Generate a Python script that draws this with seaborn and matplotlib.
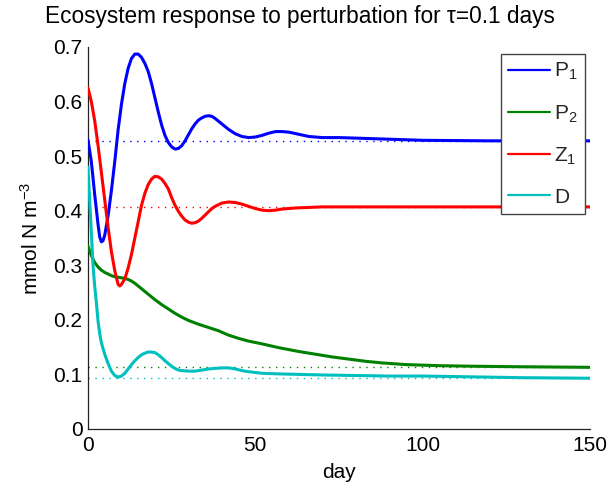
import numpy as np
import pandas as pd
import matplotlib
matplotlib.use("Agg")
import matplotlib.pyplot as plt
import seaborn as sns
from matplotlib.lines import Line2D

# ---------------- data ----------------
p1_days = [0, 1, 2, 3, 3.5, 4, 4.5, 5, 6, 7, 8, 9, 10, 11, 12, 13, 14, 15, 16, 17, 18, 19,
           20, 21, 22, 23, 24, 25, 26, 27, 28, 29, 30, 31, 32, 33, 34, 35, 36, 37, 38, 40,
           42, 44, 46, 48, 50, 52, 54, 56, 58, 60, 63, 66, 70, 75, 80, 90, 100, 120, 150]
p1_vals = [0.530, 0.490, 0.430, 0.375, 0.352, 0.343, 0.345, 0.355, 0.390, 0.437, 0.490,
           0.548, 0.595, 0.633, 0.661, 0.679, 0.687, 0.687, 0.681, 0.670, 0.655, 0.633,
           0.607, 0.581, 0.557, 0.538, 0.525, 0.517, 0.513, 0.514, 0.519, 0.528, 0.539,
           0.550, 0.559, 0.566, 0.570, 0.573, 0.574, 0.573, 0.569, 0.559, 0.549, 0.541,
           0.536, 0.534, 0.535, 0.538, 0.542, 0.545, 0.545, 0.544, 0.540, 0.536, 0.534,
           0.534, 0.533, 0.531, 0.529, 0.528, 0.528]

p2_days = [0, 1, 2, 3, 4, 5, 6, 7, 8, 9, 10, 11, 12, 13, 14, 15, 16, 17, 18, 19, 20, 22,
           24, 26, 28, 30, 33, 36, 39, 42, 45, 48, 52, 57, 63, 68, 73, 78, 83, 88, 95,
           105, 115, 130, 150]
p2_vals = [0.335, 0.318, 0.305, 0.297, 0.291, 0.287, 0.284, 0.281, 0.279, 0.278, 0.277,
           0.276, 0.274, 0.271, 0.267, 0.262, 0.257, 0.252, 0.247, 0.242, 0.237, 0.228,
           0.220, 0.212, 0.205, 0.199, 0.192, 0.186, 0.180, 0.172, 0.166, 0.161, 0.156,
           0.149, 0.142, 0.137, 0.132, 0.128, 0.124, 0.121, 0.118, 0.116, 0.115, 0.114,
           0.113]

z1_days = [0, 1, 2, 3, 4, 5, 6, 7, 8, 9, 9.5, 10, 11, 12, 13, 14, 15, 16, 17, 18, 19, 20,
           21, 22, 23, 24, 25, 26, 27, 28, 29, 30, 31, 32, 33, 34, 35, 36, 37, 38, 39, 40,
           42, 44, 46, 48, 50, 52, 54, 56, 58, 62, 70, 150]
z1_vals = [0.625, 0.600, 0.565, 0.520, 0.470, 0.420, 0.370, 0.325, 0.290, 0.265, 0.262,
           0.265, 0.275, 0.295, 0.320, 0.350, 0.380, 0.410, 0.432, 0.448, 0.458, 0.463,
           0.462, 0.458, 0.450, 0.440, 0.424, 0.410, 0.399, 0.390, 0.383, 0.379, 0.377,
           0.378, 0.381, 0.386, 0.392, 0.398, 0.404, 0.408, 0.411, 0.414, 0.416, 0.415,
           0.412, 0.408, 0.404, 0.401, 0.400, 0.401, 0.403, 0.405, 0.407, 0.407]

d_days = [0, 0.5, 1, 1.5, 2, 2.5, 3, 3.5, 4, 5, 6, 7, 8, 9, 10, 11, 12, 13, 14, 15, 16,
          17, 18, 19, 20, 21, 22, 23, 24, 25, 26, 27, 28, 30, 32, 34, 36, 38, 40, 42, 44,
          46, 48, 52, 57, 63, 70, 80, 90, 100, 110, 120, 130, 150]
d_vals = [0.480, 0.420, 0.360, 0.300, 0.262, 0.232, 0.198, 0.175, 0.158, 0.137, 0.120,
          0.106, 0.098, 0.095, 0.097, 0.102, 0.110, 0.118, 0.125, 0.131, 0.136, 0.139,
          0.141, 0.141, 0.140, 0.136, 0.131, 0.125, 0.120, 0.115, 0.111, 0.108, 0.107,
          0.106, 0.106, 0.108, 0.110, 0.111, 0.112, 0.112, 0.110, 0.107, 0.105, 0.102,
          0.101, 0.100, 0.099, 0.098, 0.097, 0.097, 0.096, 0.095, 0.094, 0.093]

series_names = ["P$_1$", "P$_2$", "Z$_1$", "D"]
equilibria = [0.527, 0.113, 0.407, 0.094]
x_ticks = [0, 50, 100, 150]
y_ticks = [0, 0.1, 0.2, 0.3, 0.4, 0.5, 0.6, 0.7]
title = "Ecosystem response to perturbation for \u03c4=0.1 days"
x_label = "day"
y_label = "mmol N m$^{-3}$"

colors = ["#0000ff", "#008000", "#ff0000", "#00bfbf"]

# ---------------- build table ----------------
frames = []
for name, dd, vv in zip(series_names,
                        [p1_days, p2_days, z1_days, d_days],
                        [p1_vals, p2_vals, z1_vals, d_vals]):
    frames.append(pd.DataFrame({"day": dd, "value": vv, "series": name}))
df = pd.concat(frames, ignore_index=True)

# ---------------- style ----------------
sns.set_theme(style="white")
plt.rcParams["font.family"] = ["Liberation Sans", "DejaVu Sans"]
plt.rcParams["mathtext.fontset"] = "custom"
plt.rcParams["mathtext.rm"] = "Liberation Sans"
plt.rcParams["mathtext.it"] = "Liberation Sans"
plt.rcParams["mathtext.bf"] = "Liberation Sans:bold"

fig = plt.figure(figsize=(6.11, 4.91), dpi=100)
ax = fig.add_axes([0.144, 0.1263, 0.8216, 0.778])

palette = dict(zip(series_names, colors))

for eq, c in zip(equilibria, colors):
    ax.axhline(eq, color=c, linestyle=(0, (1, 4)), linewidth=1.0, zorder=1)

sns.lineplot(data=df, x="day", y="value", hue="series", palette=palette,
             hue_order=series_names, estimator=None, sort=False,
             linewidth=2.2, legend=False, ax=ax, zorder=3)

ax.set_xlim(0, 150)
ax.set_ylim(0, 0.7)
ax.set_xticks(x_ticks)
ax.set_xticklabels([str(t) for t in x_ticks])
ax.set_yticks(y_ticks)
ax.set_yticklabels(["0" if t == 0 else f"{t:.1f}" for t in y_ticks])

ax.tick_params(axis="both", which="both", direction="in", length=4, width=0.8,
               labelsize=15, colors="black", pad=6)
ax.tick_params(axis="x", pad=5)
ax.tick_params(axis="y", pad=4)

for s in ["top", "right"]:
    ax.spines[s].set_visible(False)
for s in ["left", "bottom"]:
    ax.spines[s].set_color("#222222")
    ax.spines[s].set_linewidth(0.9)

ax.set_title(title, fontsize=16.3, pad=17, color="black", x=0.422)
ax.set_xlabel(x_label, fontsize=15, labelpad=6, color="black")
ax.set_ylabel(y_label, fontsize=15, labelpad=8, color="black")

handles = [Line2D([0], [0], color=c, linewidth=1.6) for c in colors]
leg = ax.legend(handles, series_names, loc="upper right",
                bbox_to_anchor=(0.99, 0.982), fontsize=15, frameon=True,
                fancybox=False, framealpha=1, edgecolor="#444444",
                handlelength=2.0, handletextpad=0.2, labelspacing=1.0,
                borderpad=0.35, borderaxespad=0)
leg.get_frame().set_linewidth(1.0)
leg.set_zorder(10)

fig.savefig("out.png", dpi=100)
